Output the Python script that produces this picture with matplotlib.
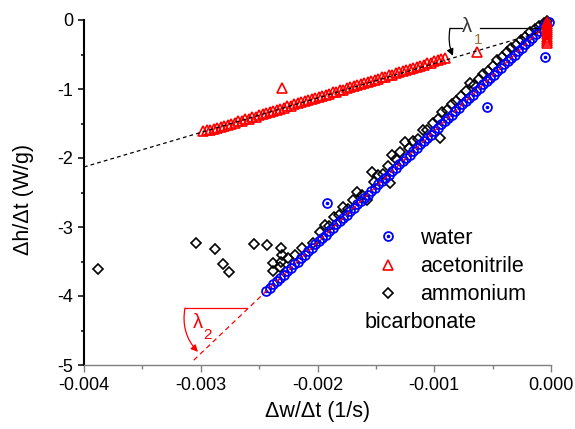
import numpy as np
import matplotlib
matplotlib.use("Agg")
import matplotlib.pyplot as plt
from matplotlib.legend_handler import HandlerTuple

plt.rcParams["font.family"] = ["Liberation Sans", "DejaVu Sans"]
plt.rcParams["axes.unicode_minus"] = False

# dados (x em 1e-3 1/s, y em W/g)
water_x = [-2.44, -2.41, -2.38, -2.35, -2.32, -2.29, -2.26, -2.23, -2.20, -2.17,
           -2.14, -2.11, -2.08, -2.05, -2.02, -1.99, -1.96, -1.93, -1.90, -1.87,
           -1.84, -1.81, -1.78, -1.75, -1.72, -1.69, -1.66, -1.63, -1.60, -1.57,
           -1.54, -1.51, -1.48, -1.45, -1.42, -1.39, -1.36, -1.33, -1.30, -1.27,
           -1.24, -1.21, -1.18, -1.15, -1.12, -1.09, -1.06, -1.03, -1.00, -0.97,
           -0.94, -0.91, -0.88, -0.85, -0.82, -0.79, -0.76, -0.73, -0.70, -0.67,
           -0.64, -0.61, -0.58, -0.55, -0.52, -0.49, -0.46, -0.43, -0.40, -0.37,
           -0.34, -0.31, -0.28, -0.25, -0.22, -0.19, -0.16, -0.13, -0.10, -0.07,
           -0.04, -0.02,
           -1.92, -0.55, -0.05]
water_y = [-3.93, -3.88, -3.83, -3.78, -3.74, -3.69, -3.64, -3.59, -3.54, -3.50,
           -3.45, -3.40, -3.35, -3.30, -3.25, -3.20, -3.16, -3.11, -3.06, -3.01,
           -2.96, -2.91, -2.87, -2.82, -2.77, -2.72, -2.67, -2.62, -2.58, -2.53,
           -2.48, -2.43, -2.38, -2.33, -2.29, -2.24, -2.19, -2.14, -2.09, -2.04,
           -2.00, -1.95, -1.90, -1.85, -1.80, -1.75, -1.71, -1.66, -1.61, -1.56,
           -1.51, -1.47, -1.42, -1.37, -1.32, -1.27, -1.22, -1.18, -1.13, -1.08,
           -1.03, -0.98, -0.93, -0.89, -0.84, -0.79, -0.74, -0.69, -0.64, -0.60,
           -0.55, -0.50, -0.45, -0.40, -0.35, -0.31, -0.26, -0.21, -0.16, -0.11,
           -0.06, -0.03,
           -2.65, -1.26, -0.54]

acn_x = [-2.98, -2.95, -2.92, -2.89, -2.86, -2.83, -2.80, -2.77, -2.74, -2.71,
         -2.68, -2.65, -2.62, -2.59, -2.56, -2.53, -2.50, -2.47, -2.44, -2.41,
         -2.38, -2.35, -2.32, -2.29, -2.26, -2.23, -2.20, -2.17, -2.14, -2.11,
         -2.08, -2.05, -2.02, -1.99, -1.96, -1.93, -1.90, -1.87, -1.84, -1.81,
         -1.78, -1.75, -1.72, -1.69, -1.66, -1.63, -1.60, -1.57, -1.54, -1.51,
         -1.48, -1.45, -1.42, -1.39, -1.36, -1.33, -1.30, -1.27, -1.24, -1.21,
         -1.18, -1.15, -1.12, -1.09, -1.06, -1.03, -1.00, -0.97, -0.94, -0.91,
         -2.30, -0.63,
         -0.03, -0.03, -0.03, -0.03, -0.03, -0.03, -0.03, -0.03, -0.03, -0.03, -0.03]
acn_y = [-1.61, -1.60, -1.59, -1.58, -1.56, -1.55, -1.53, -1.52, -1.50, -1.49,
         -1.47, -1.46, -1.44, -1.43, -1.41, -1.40, -1.38, -1.36, -1.35, -1.33,
         -1.32, -1.30, -1.29, -1.27, -1.25, -1.24, -1.22, -1.21, -1.19, -1.18,
         -1.16, -1.15, -1.13, -1.11, -1.10, -1.08, -1.07, -1.05, -1.04, -1.02,
         -1.01, -0.99, -0.97, -0.96, -0.94, -0.93, -0.91, -0.90, -0.88, -0.87,
         -0.85, -0.83, -0.82, -0.80, -0.79, -0.77, -0.76, -0.74, -0.72, -0.71,
         -0.69, -0.68, -0.66, -0.65, -0.63, -0.62, -0.60, -0.58, -0.57, -0.55,
         -0.99, -0.46,
         -0.03, -0.06, -0.09, -0.12, -0.15, -0.18, -0.21, -0.24, -0.27, -0.30, -0.33]

amm_x = [-3.88, -3.04, -2.88, -2.81, -2.76,
         -2.54, -2.43, -2.31, -2.30, -2.31, -2.32, -2.38, -2.38, -2.25, -2.19, -2.13, -2.04,
         -1.98, -1.94, -1.90, -1.86, -1.82, -1.78, -1.74, -1.70, -1.66, -1.62,
         -1.58, -1.53, -1.52, -1.48, -1.44, -1.40, -1.38, -1.36, -1.33, -1.29,
         -1.25, -1.22, -1.18, -1.14, -1.10, -1.06, -1.01, -0.95, -0.97, -0.93,
         -0.89, -0.85, -0.81, -0.77, -0.73, -0.69, -0.66, -0.62, -0.58, -0.54,
         -0.50, -0.46, -0.42, -0.38, -0.34, -0.30, -0.26, -0.22, -0.18, -0.14,
         -0.10, -0.06, -0.03]
amm_y = [-3.61, -3.23, -3.32, -3.54, -3.65,
         -3.25, -3.26, -3.30, -3.40, -3.50, -3.58, -3.52, -3.64, -3.45, -3.41, -3.30, -3.23,
         -3.07, -2.97, -2.98, -2.85, -2.83, -2.71, -2.74, -2.61, -2.49, -2.53,
         -2.61, -2.20, -2.35, -2.24, -2.23, -2.12, -2.36, -1.96, -2.02, -1.92,
         -1.77, -1.86, -1.75, -1.72, -1.60, -1.60, -1.49, -1.71, -1.44, -1.34,
         -1.31, -1.22, -1.17, -1.10, -1.03, -0.91, -0.94, -0.86, -0.78, -0.74,
         -0.66, -0.58, -0.54, -0.46, -0.41, -0.36, -0.29, -0.25, -0.18, -0.13,
         -0.08, -0.05, -0.02]

# retas de ajuste
water_fit_x = [-3.06, 0.0]
water_fit_y = [-4.93, 0.0]
acn_fit_x = [-4.0, -0.10]
acn_fit_y = [-2.13, -0.18]

xticks = [-0.004, -0.003, -0.002, -0.001, 0.0]
xticklabels = ["-0.004", "-0.003", "-0.002", "-0.001", "0.000"]
yticks = [0, -1, -2, -3, -4, -5]
yticklabels = ["0", "-1", "-2", "-3", "-4", "-5"]

wx = np.array(water_x) * 1e-3
ax_ = np.array(acn_x) * 1e-3
mx = np.array(amm_x) * 1e-3

fig = plt.figure(figsize=(5.75, 4.29), dpi=100)
ax = fig.add_axes([84 / 575, 64 / 429, 467 / 575, 345 / 429])

h_amm, = ax.plot(mx, amm_y, ls="none", marker="D", ms=5, mfc="none",
                 mec="black", mew=1.2, zorder=2, clip_on=False)
h_w1, = ax.plot(wx, water_y, ls="none", marker="o", ms=6.4, mfc="none",
                mec="blue", mew=1.3, zorder=3, clip_on=False)
h_w2, = ax.plot(wx, water_y, ls="none", marker="o", ms=1.6, color="blue",
                zorder=3, clip_on=False)
h_acn, = ax.plot(ax_, acn_y, ls="none", marker="^", ms=7, mfc="none",
                 mec="red", mew=1.2, zorder=3, clip_on=False)

ax.plot(np.array(water_fit_x) * 1e-3, water_fit_y, color="red", lw=0.9,
        ls=(0, (4, 3)), zorder=4)
ax.plot(np.array(acn_fit_x) * 1e-3, acn_fit_y, color="black", lw=0.9,
        ls=(0, (3, 2.5)), zorder=4, clip_on=False)

# angulo lambda 1
ax.plot([-0.000865, -0.00076], [-0.12, -0.12], color="black", lw=0.9, zorder=5)
ax.plot([-0.000608, -0.00011], [-0.12, -0.12], color="black", lw=0.9, zorder=5)
ax.annotate("", xy=(-0.00084, -0.52), xytext=(-0.000865, -0.12),
            arrowprops=dict(arrowstyle="-|>", color="black", lw=0.9,
                            mutation_scale=10, shrinkA=0, shrinkB=0,
                            connectionstyle="arc3,rad=0.15"), zorder=5)
ax.text(-0.00072, -0.09, "λ", fontsize=14.5, color="#333333", ha="center", va="center", zorder=6)
ax.text(-0.000625, -0.29, "1", fontsize=11, color="#a07030", ha="center", va="center", zorder=6)

# angulo lambda 2
ax.plot([-0.003135, -0.002604], [-4.174, -4.174], color="red", lw=0.9, zorder=5)
ax.annotate("", xy=(-0.003024, -4.81), xytext=(-0.003135, -4.174),
            arrowprops=dict(arrowstyle="-|>", color="red", lw=0.9,
                            mutation_scale=10, shrinkA=0, shrinkB=0,
                            connectionstyle="arc3,rad=0.25"), zorder=5)
ax.text(-0.003024, -4.39, "λ", fontsize=14.5, color="red", ha="center", va="center", zorder=6)
ax.text(-0.002945, -4.57, "2", fontsize=11, color="red", ha="center", va="center", zorder=6)

ax.set_xlim(-0.004, 0.0)
ax.set_ylim(-5, 0)
ax.set_xticks(xticks)
ax.set_xticklabels(xticklabels)
ax.set_xticks([-0.0035, -0.0025, -0.0015, -0.0005], minor=True)
ax.set_yticks(yticks)
ax.set_yticklabels(yticklabels)
ax.set_yticks([-0.5, -1.5, -2.5, -3.5, -4.5], minor=True)

for s in ["top", "right"]:
    ax.spines[s].set_visible(False)
ax.spines["left"].set_linewidth(1.5)
ax.spines["left"].set_color("black")
ax.spines["bottom"].set_linewidth(1.0)
ax.spines["bottom"].set_color("#808080")

ax.tick_params(axis="x", which="major", direction="out", length=5, width=1.0,
               color="#808080", labelsize=13, pad=4)
ax.tick_params(axis="x", which="minor", direction="out", length=3, width=1.0,
               color="#808080")
ax.tick_params(axis="y", which="major", direction="out", length=4.5, width=1.1,
               color="black", labelsize=13, pad=3)
ax.tick_params(axis="y", which="minor", direction="out", length=2.5, width=1.1,
               color="black")

ax.set_xlabel("Δw/Δt (1/s)", fontsize=15.5)
ax.set_ylabel("Δh/Δt (W/g)", fontsize=15.5)
ax.xaxis.set_label_coords(0.5, -0.105)
ax.yaxis.set_label_coords(-0.108, 0.48)

leg = ax.legend([(h_w1, h_w2), h_acn, h_amm], ["water", "acetonitrile", "ammonium"],
                handler_map={tuple: HandlerTuple(ndivide=1)},
                loc="upper left", bbox_to_anchor=(375 / 575, 1 - 228 / 429),
                bbox_transform=fig.transFigure, frameon=False, fontsize=15.5,
                handlelength=1.2, handletextpad=0.9, labelspacing=0.33,
                borderpad=0, borderaxespad=0)
fig.text(365 / 575, 1 - 323 / 429, "bicarbonate", fontsize=15.5,
         ha="left", va="center")

fig.savefig("out.png", dpi=100)
